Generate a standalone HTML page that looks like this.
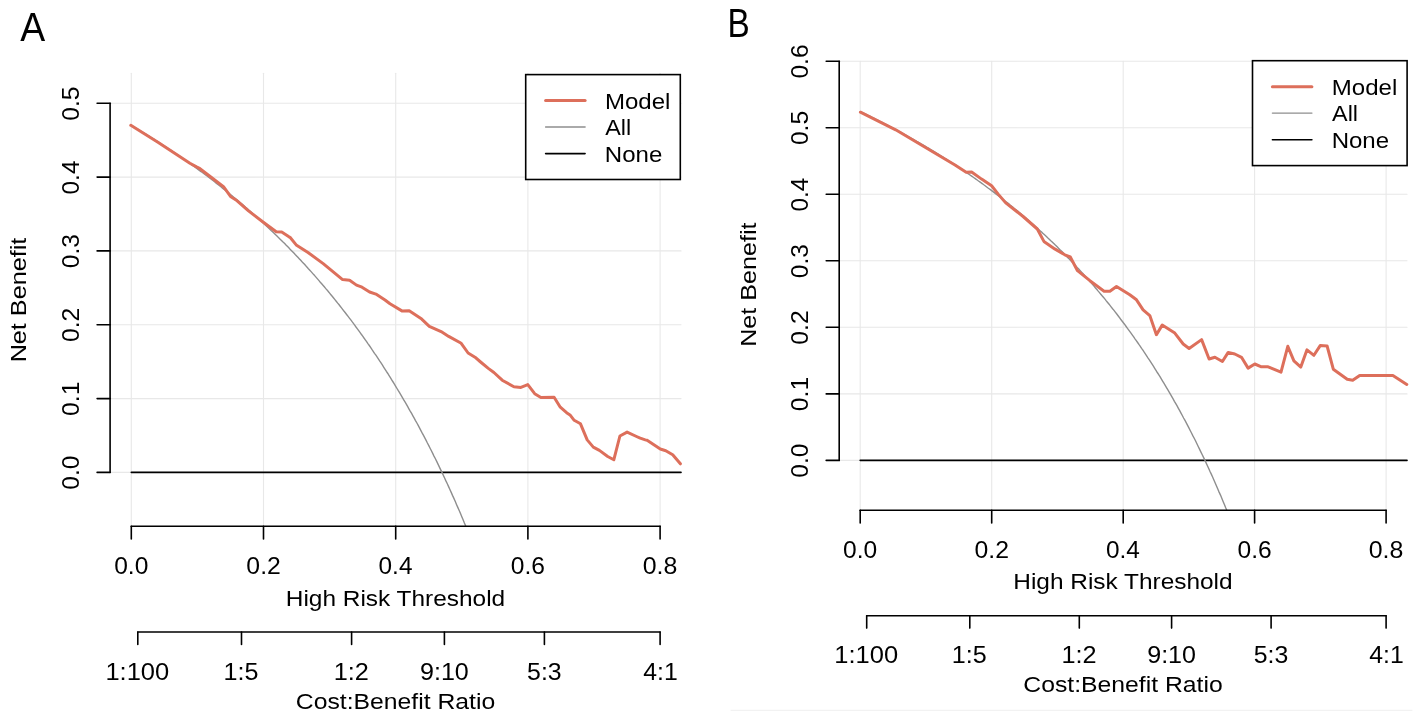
<!DOCTYPE html>
<html><head><meta charset="utf-8"><style>
html,body{margin:0;padding:0;background:#fff;width:1418px;height:722px;overflow:hidden}
svg{display:block;will-change:transform}
.t{font-family:"Liberation Sans", sans-serif;font-size:23.5px;fill:#000}
.w{font-family:"Liberation Sans", sans-serif;font-size:22.7px;fill:#000}
.lg{font-family:"Liberation Sans", sans-serif;font-size:20.5px;fill:#000}
.big{font-family:"Liberation Sans", sans-serif;font-size:39.5px;fill:#000}
</style></head><body>
<svg width="1418" height="722" viewBox="0 0 1418 722" stroke-linecap="round">
<rect width="1418" height="722" fill="#fff"/>
<line x1="131.3" y1="73.3" x2="131.3" y2="526.2" stroke="#e8e8e8" stroke-width="1.1"/>
<line x1="263.5" y1="73.3" x2="263.5" y2="526.2" stroke="#e8e8e8" stroke-width="1.1"/>
<line x1="395.7" y1="73.3" x2="395.7" y2="526.2" stroke="#e8e8e8" stroke-width="1.1"/>
<line x1="527.9" y1="73.3" x2="527.9" y2="526.2" stroke="#e8e8e8" stroke-width="1.1"/>
<line x1="660.1" y1="73.3" x2="660.1" y2="526.2" stroke="#e8e8e8" stroke-width="1.1"/>
<line x1="110.1" y1="472.4" x2="681" y2="472.4" stroke="#e8e8e8" stroke-width="1.1"/>
<line x1="110.1" y1="398.6" x2="681" y2="398.6" stroke="#e8e8e8" stroke-width="1.1"/>
<line x1="110.1" y1="324.8" x2="681" y2="324.8" stroke="#e8e8e8" stroke-width="1.1"/>
<line x1="110.1" y1="250.9" x2="681" y2="250.9" stroke="#e8e8e8" stroke-width="1.1"/>
<line x1="110.1" y1="177.1" x2="681" y2="177.1" stroke="#e8e8e8" stroke-width="1.1"/>
<line x1="110.1" y1="103.3" x2="681" y2="103.3" stroke="#e8e8e8" stroke-width="1.1"/>
<line x1="131.3" y1="472.4" x2="681" y2="472.4" stroke="#000" stroke-width="1.6"/>
<polyline fill="none" stroke="#8e8e8e" stroke-width="1.4" points="131.3,125.4 132.6,126.2 133.9,127 135.3,127.8 136.6,128.6 137.9,129.4 139.2,130.2 140.6,131 141.9,131.8 143.2,132.6 144.5,133.4 145.8,134.2 147.2,135.1 148.5,135.9 149.8,136.7 151.1,137.5 152.5,138.4 153.8,139.2 155.1,140.1 156.4,140.9 157.7,141.7 159.1,142.6 160.4,143.5 161.7,144.3 163,145.2 164.4,146 165.7,146.9 167,147.8 168.3,148.7 169.6,149.5 171,150.4 172.3,151.3 173.6,152.2 174.9,153.1 176.2,154 177.6,154.9 178.9,155.8 180.2,156.7 181.5,157.6 182.9,158.5 184.2,159.5 185.5,160.4 186.8,161.3 188.1,162.3 189.5,163.2 190.8,164.1 192.1,165.1 193.4,166 194.8,167 196.1,168 197.4,168.9 198.7,169.9 200,170.9 201.4,171.8 202.7,172.8 204,173.8 205.3,174.8 206.7,175.8 208,176.8 209.3,177.8 210.6,178.8 211.9,179.8 213.3,180.8 214.6,181.8 215.9,182.9 217.2,183.9 218.6,184.9 219.9,186 221.2,187 222.5,188.1 223.8,189.1 225.2,190.2 226.5,191.3 227.8,192.3 229.1,193.4 230.4,194.5 231.8,195.6 233.1,196.7 234.4,197.8 235.7,198.9 237.1,200 238.4,201.1 239.7,202.2 241,203.3 242.3,204.4 243.7,205.6 245,206.7 246.3,207.9 247.6,209 249,210.2 250.3,211.3 251.6,212.5 252.9,213.7 254.2,214.8 255.6,216 256.9,217.2 258.2,218.4 259.5,219.6 260.9,220.8 262.2,222 263.5,223.3 264.8,224.5 266.1,225.7 267.5,227 268.8,228.2 270.1,229.4 271.4,230.7 272.8,232 274.1,233.2 275.4,234.5 276.7,235.8 278,237.1 279.4,238.4 280.7,239.7 282,241 283.3,242.3 284.7,243.6 286,245 287.3,246.3 288.6,247.6 289.9,249 291.3,250.4 292.6,251.7 293.9,253.1 295.2,254.5 296.6,255.9 297.9,257.3 299.2,258.7 300.5,260.1 301.8,261.5 303.2,262.9 304.5,264.3 305.8,265.8 307.1,267.2 308.4,268.7 309.8,270.2 311.1,271.6 312.4,273.1 313.7,274.6 315.1,276.1 316.4,277.6 317.7,279.1 319,280.6 320.3,282.2 321.7,283.7 323,285.3 324.3,286.8 325.6,288.4 327,289.9 328.3,291.5 329.6,293.1 330.9,294.7 332.2,296.3 333.6,298 334.9,299.6 336.2,301.2 337.5,302.9 338.9,304.5 340.2,306.2 341.5,307.9 342.8,309.6 344.1,311.3 345.5,313 346.8,314.7 348.1,316.4 349.4,318.1 350.8,319.9 352.1,321.7 353.4,323.4 354.7,325.2 356,327 357.4,328.8 358.7,330.6 360,332.4 361.3,334.3 362.7,336.1 364,338 365.3,339.8 366.6,341.7 367.9,343.6 369.3,345.5 370.6,347.4 371.9,349.4 373.2,351.3 374.5,353.3 375.9,355.2 377.2,357.2 378.5,359.2 379.8,361.2 381.2,363.2 382.5,365.2 383.8,367.3 385.1,369.3 386.4,371.4 387.8,373.5 389.1,375.6 390.4,377.7 391.7,379.8 393.1,382 394.4,384.1 395.7,386.3 397,388.5 398.3,390.7 399.7,392.9 401,395.1 402.3,397.3 403.6,399.6 405,401.9 406.3,404.1 407.6,406.4 408.9,408.8 410.2,411.1 411.6,413.4 412.9,415.8 414.2,418.2 415.5,420.6 416.9,423 418.2,425.4 419.5,427.9 420.8,430.4 422.1,432.9 423.5,435.4 424.8,437.9 426.1,440.4 427.4,443 428.8,445.6 430.1,448.2 431.4,450.8 432.7,453.4 434,456.1 435.4,458.7 436.7,461.4 438,464.1 439.3,466.9 440.6,469.6 442,472.4 443.3,475.2 444.6,478 445.9,480.9 447.3,483.7 448.6,486.6 449.9,489.5 451.2,492.4 452.5,495.4 453.9,498.4 455.2,501.3 456.5,504.4 457.8,507.4 459.2,510.5 460.5,513.6 461.8,516.7 463.1,519.8 464.4,523 465.8,526.2 465.8,526.2"/>
<polyline fill="none" stroke="#DD6F5B" stroke-width="3" stroke-linejoin="round" points="130.8,125.3 158.3,142.4 189.9,163.2 196.5,166.9 200,168.7 209.5,176 223.5,186.7 230.5,196.4 236,199.9 248.5,210.9 263,222 276.2,231.7 281.7,232.1 288.6,236.6 290,237.3 296.2,244.9 308,252.5 323.2,263.6 342.6,279.6 349.6,280.2 356.5,285.1 362,287.2 369.6,292 375.9,294.1 385,300 390,303.8 402.3,311.1 409.2,310.8 421.7,319.1 429.3,326.3 441.1,331.6 448.7,336.4 461.2,343.3 468.1,353 475,357.2 480,361.5 488.3,368.4 493.9,372.5 502.2,380.2 513.9,386.7 520.9,387.4 527.8,384.6 534.7,393.7 540.9,397.5 554.1,397.2 560.3,407.2 566.6,412.7 570,414.9 574.2,420.3 580.5,423.8 587.2,439.9 593.3,447.1 599.4,450.4 607.7,456.5 613.8,459.8 619.9,436 627.1,432.1 636.5,436.5 640.2,438.2 645.3,439.9 647.1,440.3 660.3,449 665.8,450.7 672.7,454.8 680.4,463.8"/>
<path d="M110.1,472.4V103.3" stroke="#000" stroke-width="1.6" fill="none"/>
<path d="M97.1,472.4H110.1" stroke="#000" stroke-width="1.6"/>
<text transform="translate(78.60,489.75) rotate(-90) scale(1.0472,1)" class="t">0.0</text>
<path d="M97.1,398.6H110.1" stroke="#000" stroke-width="1.6"/>
<text transform="translate(78.60,415.94) rotate(-90) scale(1.0557,1)" class="t">0.1</text>
<path d="M97.1,324.8H110.1" stroke="#000" stroke-width="1.6"/>
<text transform="translate(78.60,342.12) rotate(-90) scale(1.0557,1)" class="t">0.2</text>
<path d="M97.1,250.9H110.1" stroke="#000" stroke-width="1.6"/>
<text transform="translate(78.60,268.29) rotate(-90) scale(1.0472,1)" class="t">0.3</text>
<path d="M97.1,177.1H110.1" stroke="#000" stroke-width="1.6"/>
<text transform="translate(78.60,194.46) rotate(-90) scale(1.0387,1)" class="t">0.4</text>
<path d="M97.1,103.3H110.1" stroke="#000" stroke-width="1.6"/>
<text transform="translate(78.60,120.65) rotate(-90) scale(1.0472,1)" class="t">0.5</text>
<path d="M131.3,526.2H660.1" stroke="#000" stroke-width="1.6" fill="none"/>
<path d="M131.3,526.2V538.9" stroke="#000" stroke-width="1.6"/>
<text transform="translate(114.15,574.00) scale(1.0472,1.0000)" class="t">0.0</text>
<path d="M263.5,526.2V538.9" stroke="#000" stroke-width="1.6"/>
<text transform="translate(246.34,574.00) scale(1.0557,1.0000)" class="t">0.2</text>
<path d="M395.7,526.2V538.9" stroke="#000" stroke-width="1.6"/>
<text transform="translate(378.56,574.00) scale(1.0387,1.0000)" class="t">0.4</text>
<path d="M527.9,526.2V538.9" stroke="#000" stroke-width="1.6"/>
<text transform="translate(510.75,574.00) scale(1.0472,1.0000)" class="t">0.6</text>
<path d="M660.1,526.2V538.9" stroke="#000" stroke-width="1.6"/>
<text transform="translate(642.74,574.00) scale(1.0602,1.0000)" class="t">0.8</text>
<text transform="translate(285.82,605.50) scale(1.0760,1.0000)" class="w">High Risk Threshold</text>
<path d="M137.8,632H660.1" stroke="#000" stroke-width="1.6" fill="none"/>
<path d="M137.8,632V644.4" stroke="#000" stroke-width="1.6"/>
<text transform="translate(105.45,679.60) scale(1.0844,1.0000)" class="t">1:100</text>
<path d="M241.5,632V644.4" stroke="#000" stroke-width="1.6"/>
<text transform="translate(223.54,679.60) scale(1.0700,1.0000)" class="t">1:5</text>
<path d="M351.6,632V644.4" stroke="#000" stroke-width="1.6"/>
<text transform="translate(333.75,679.60) scale(1.0756,1.0000)" class="t">1:2</text>
<path d="M444.4,632V644.4" stroke="#000" stroke-width="1.6"/>
<text transform="translate(419.99,679.60) scale(1.0674,1.0000)" class="t">9:10</text>
<path d="M544.4,632V644.4" stroke="#000" stroke-width="1.6"/>
<text transform="translate(527.12,679.60) scale(1.0569,1.0000)" class="t">5:3</text>
<path d="M660.1,632V644.4" stroke="#000" stroke-width="1.6"/>
<text transform="translate(643.22,679.60) scale(1.0548,1.0000)" class="t">4:1</text>
<text transform="translate(295.84,708.90) scale(1.0899,1.0000)" class="w">Cost:Benefit Ratio</text>
<rect x="525.7" y="74.6" width="154.6" height="104.9" fill="#fff" stroke="#000" stroke-width="1.6"/>
<line x1="545.6" y1="100.6" x2="585.1" y2="100.6" stroke="#DD6F5B" stroke-width="3"/>
<text transform="translate(604.95,108.70) scale(1.0598,1.0000)" class="w">Model</text>
<line x1="545.6" y1="127" x2="585.1" y2="127" stroke="#8e8e8e" stroke-width="1.4"/>
<text transform="translate(605.24,135.10) scale(1.0298,1.0000)" class="w">All</text>
<line x1="545.6" y1="153.6" x2="585.1" y2="153.6" stroke="#000" stroke-width="1.6"/>
<text transform="translate(604.85,161.50) scale(1.0583,1.0000)" class="w">None</text>
<line x1="860.2" y1="61.2" x2="860.2" y2="510.3" stroke="#e8e8e8" stroke-width="1.1"/>
<line x1="991.7" y1="61.2" x2="991.7" y2="510.3" stroke="#e8e8e8" stroke-width="1.1"/>
<line x1="1123.2" y1="61.2" x2="1123.2" y2="510.3" stroke="#e8e8e8" stroke-width="1.1"/>
<line x1="1254.6" y1="61.2" x2="1254.6" y2="510.3" stroke="#e8e8e8" stroke-width="1.1"/>
<line x1="1386.1" y1="61.2" x2="1386.1" y2="510.3" stroke="#e8e8e8" stroke-width="1.1"/>
<line x1="839.2" y1="460.4" x2="1407" y2="460.4" stroke="#e8e8e8" stroke-width="1.1"/>
<line x1="839.2" y1="393.9" x2="1407" y2="393.9" stroke="#e8e8e8" stroke-width="1.1"/>
<line x1="839.2" y1="327.3" x2="1407" y2="327.3" stroke="#e8e8e8" stroke-width="1.1"/>
<line x1="839.2" y1="260.8" x2="1407" y2="260.8" stroke="#e8e8e8" stroke-width="1.1"/>
<line x1="839.2" y1="194.3" x2="1407" y2="194.3" stroke="#e8e8e8" stroke-width="1.1"/>
<line x1="839.2" y1="127.8" x2="1407" y2="127.8" stroke="#e8e8e8" stroke-width="1.1"/>
<line x1="839.2" y1="61.2" x2="1407" y2="61.2" stroke="#e8e8e8" stroke-width="1.1"/>
<line x1="860.2" y1="460.4" x2="1407" y2="460.4" stroke="#000" stroke-width="1.6"/>
<polyline fill="none" stroke="#8e8e8e" stroke-width="1.4" points="860.2,111.5 861.5,112.2 862.8,112.8 864.1,113.4 865.5,114.1 866.8,114.7 868.1,115.4 869.4,116 870.7,116.7 872,117.3 873.3,118 874.7,118.6 876,119.3 877.3,120 878.6,120.6 879.9,121.3 881.2,122 882.6,122.7 883.9,123.3 885.2,124 886.5,124.7 887.8,125.4 889.1,126.1 890.4,126.8 891.8,127.5 893.1,128.2 894.4,128.9 895.7,129.6 897,130.3 898.3,131 899.6,131.7 901,132.4 902.3,133.2 903.6,133.9 904.9,134.6 906.2,135.3 907.5,136.1 908.8,136.8 910.2,137.5 911.5,138.3 912.8,139 914.1,139.8 915.4,140.5 916.7,141.3 918.1,142 919.4,142.8 920.7,143.6 922,144.3 923.3,145.1 924.6,145.9 925.9,146.7 927.3,147.5 928.6,148.2 929.9,149 931.2,149.8 932.5,150.6 933.8,151.4 935.1,152.2 936.5,153 937.8,153.8 939.1,154.7 940.4,155.5 941.7,156.3 943,157.1 944.3,158 945.7,158.8 947,159.6 948.3,160.5 949.6,161.3 950.9,162.2 952.2,163 953.6,163.9 954.9,164.7 956.2,165.6 957.5,166.5 958.8,167.4 960.1,168.2 961.4,169.1 962.8,170 964.1,170.9 965.4,171.8 966.7,172.7 968,173.6 969.3,174.5 970.6,175.4 972,176.3 973.3,177.2 974.6,178.2 975.9,179.1 977.2,180 978.5,181 979.8,181.9 981.2,182.9 982.5,183.8 983.8,184.8 985.1,185.7 986.4,186.7 987.7,187.7 989.1,188.7 990.4,189.6 991.7,190.6 993,191.6 994.3,192.6 995.6,193.6 996.9,194.6 998.3,195.6 999.6,196.6 1000.9,197.7 1002.2,198.7 1003.5,199.7 1004.8,200.8 1006.1,201.8 1007.5,202.9 1008.8,203.9 1010.1,205 1011.4,206 1012.7,207.1 1014,208.2 1015.3,209.3 1016.7,210.3 1018,211.4 1019.3,212.5 1020.6,213.6 1021.9,214.8 1023.2,215.9 1024.5,217 1025.9,218.1 1027.2,219.3 1028.5,220.4 1029.8,221.5 1031.1,222.7 1032.4,223.8 1033.8,225 1035.1,226.2 1036.4,227.4 1037.7,228.5 1039,229.7 1040.3,230.9 1041.6,232.1 1043,233.4 1044.3,234.6 1045.6,235.8 1046.9,237 1048.2,238.3 1049.5,239.5 1050.8,240.8 1052.2,242 1053.5,243.3 1054.8,244.6 1056.1,245.8 1057.4,247.1 1058.7,248.4 1060,249.7 1061.4,251 1062.7,252.3 1064,253.7 1065.3,255 1066.6,256.3 1067.9,257.7 1069.3,259.1 1070.6,260.4 1071.9,261.8 1073.2,263.2 1074.5,264.6 1075.8,266 1077.1,267.4 1078.5,268.8 1079.8,270.2 1081.1,271.6 1082.4,273.1 1083.7,274.5 1085,276 1086.3,277.4 1087.7,278.9 1089,280.4 1090.3,281.9 1091.6,283.4 1092.9,284.9 1094.2,286.4 1095.5,288 1096.9,289.5 1098.2,291.1 1099.5,292.6 1100.8,294.2 1102.1,295.8 1103.4,297.3 1104.8,298.9 1106.1,300.6 1107.4,302.2 1108.7,303.8 1110,305.4 1111.3,307.1 1112.6,308.8 1114,310.4 1115.3,312.1 1116.6,313.8 1117.9,315.5 1119.2,317.2 1120.5,319 1121.8,320.7 1123.2,322.5 1124.5,324.2 1125.8,326 1127.1,327.8 1128.4,329.6 1129.7,331.4 1131,333.2 1132.4,335.1 1133.7,336.9 1135,338.8 1136.3,340.6 1137.6,342.5 1138.9,344.4 1140.3,346.3 1141.6,348.3 1142.9,350.2 1144.2,352.2 1145.5,354.1 1146.8,356.1 1148.1,358.1 1149.5,360.1 1150.8,362.2 1152.1,364.2 1153.4,366.2 1154.7,368.3 1156,370.4 1157.3,372.5 1158.7,374.6 1160,376.7 1161.3,378.9 1162.6,381.1 1163.9,383.2 1165.2,385.4 1166.5,387.6 1167.9,389.9 1169.2,392.1 1170.5,394.4 1171.8,396.7 1173.1,398.9 1174.4,401.3 1175.8,403.6 1177.1,405.9 1178.4,408.3 1179.7,410.7 1181,413.1 1182.3,415.5 1183.6,418 1185,420.4 1186.3,422.9 1187.6,425.4 1188.9,427.9 1190.2,430.5 1191.5,433 1192.8,435.6 1194.2,438.2 1195.5,440.8 1196.8,443.5 1198.1,446.2 1199.4,448.9 1200.7,451.6 1202,454.3 1203.4,457.1 1204.7,459.8 1206,462.6 1207.3,465.5 1208.6,468.3 1209.9,471.2 1211.3,474.1 1212.6,477 1213.9,480 1215.2,483 1216.5,486 1217.8,489 1219.1,492.1 1220.5,495.1 1221.8,498.2 1223.1,501.4 1224.4,504.6 1225.7,507.8 1226.8,510.3"/>
<polyline fill="none" stroke="#DD6F5B" stroke-width="3" stroke-linejoin="round" points="860.4,112.2 895.7,129.8 933.1,152 955,165 966.2,172.3 971.6,172 981.6,179.1 991.6,185.8 998.2,194.1 1005.7,202.9 1023.1,216.5 1037.3,229 1043.9,241.4 1054.7,248.9 1064.8,254.8 1070.3,257 1077.5,270.7 1089.9,280.7 1104.1,291.2 1109.9,291.2 1116.5,286.5 1129.8,294.8 1136.5,299.8 1143.1,309.8 1149.8,315.6 1156.4,334.7 1162.2,325.1 1174.8,333.1 1183.2,344 1189.1,348.5 1201.6,339.6 1209.1,359 1214.9,357.3 1222.4,361.5 1228.2,352.4 1234.8,354 1241.5,357.3 1248.1,368.1 1254.8,364 1261.4,366.8 1268.1,366.8 1281,372.2 1287.8,346.3 1293.9,360.9 1300.8,367.1 1307,349.8 1313.9,355.3 1320.2,345.6 1327.1,346 1333.3,369.2 1347.2,379.3 1352.7,380.3 1359.7,375.4 1392.9,375.4 1406.8,384.4"/>
<path d="M839.2,460.4V61.2" stroke="#000" stroke-width="1.6" fill="none"/>
<path d="M826.2,460.4H839.2" stroke="#000" stroke-width="1.6"/>
<text transform="translate(808.10,477.75) rotate(-90) scale(1.0472,1)" class="t">0.0</text>
<path d="M826.2,393.9H839.2" stroke="#000" stroke-width="1.6"/>
<text transform="translate(808.10,411.23) rotate(-90) scale(1.0557,1)" class="t">0.1</text>
<path d="M826.2,327.3H839.2" stroke="#000" stroke-width="1.6"/>
<text transform="translate(808.10,344.70) rotate(-90) scale(1.0557,1)" class="t">0.2</text>
<path d="M826.2,260.8H839.2" stroke="#000" stroke-width="1.6"/>
<text transform="translate(808.10,278.16) rotate(-90) scale(1.0472,1)" class="t">0.3</text>
<path d="M826.2,194.3H839.2" stroke="#000" stroke-width="1.6"/>
<text transform="translate(808.10,211.62) rotate(-90) scale(1.0387,1)" class="t">0.4</text>
<path d="M826.2,127.8H839.2" stroke="#000" stroke-width="1.6"/>
<text transform="translate(808.10,145.10) rotate(-90) scale(1.0472,1)" class="t">0.5</text>
<path d="M826.2,61.2H839.2" stroke="#000" stroke-width="1.6"/>
<text transform="translate(808.10,78.57) rotate(-90) scale(1.0472,1)" class="t">0.6</text>
<path d="M860.2,510.3H1386.1" stroke="#000" stroke-width="1.6" fill="none"/>
<path d="M860.2,510.3V523" stroke="#000" stroke-width="1.6"/>
<text transform="translate(843.05,557.70) scale(1.0472,1.0000)" class="t">0.0</text>
<path d="M991.7,510.3V523" stroke="#000" stroke-width="1.6"/>
<text transform="translate(974.52,557.70) scale(1.0557,1.0000)" class="t">0.2</text>
<path d="M1123.2,510.3V523" stroke="#000" stroke-width="1.6"/>
<text transform="translate(1106.02,557.70) scale(1.0387,1.0000)" class="t">0.4</text>
<path d="M1254.6,510.3V523" stroke="#000" stroke-width="1.6"/>
<text transform="translate(1237.49,557.70) scale(1.0472,1.0000)" class="t">0.6</text>
<path d="M1386.1,510.3V523" stroke="#000" stroke-width="1.6"/>
<text transform="translate(1368.76,557.70) scale(1.0602,1.0000)" class="t">0.8</text>
<text transform="translate(1013.28,589.20) scale(1.0760,1.0000)" class="w">High Risk Threshold</text>
<path d="M866.7,615.7H1386.1" stroke="#000" stroke-width="1.6" fill="none"/>
<path d="M866.7,615.7V628.1" stroke="#000" stroke-width="1.6"/>
<text transform="translate(834.31,663.00) scale(1.0844,1.0000)" class="t">1:100</text>
<path d="M969.8,615.7V628.1" stroke="#000" stroke-width="1.6"/>
<text transform="translate(951.84,663.00) scale(1.0700,1.0000)" class="t">1:5</text>
<path d="M1079.3,615.7V628.1" stroke="#000" stroke-width="1.6"/>
<text transform="translate(1061.45,663.00) scale(1.0756,1.0000)" class="t">1:2</text>
<path d="M1171.6,615.7V628.1" stroke="#000" stroke-width="1.6"/>
<text transform="translate(1147.18,663.00) scale(1.0674,1.0000)" class="t">9:10</text>
<path d="M1271.1,615.7V628.1" stroke="#000" stroke-width="1.6"/>
<text transform="translate(1253.77,663.00) scale(1.0569,1.0000)" class="t">5:3</text>
<path d="M1386.1,615.7V628.1" stroke="#000" stroke-width="1.6"/>
<text transform="translate(1369.24,663.00) scale(1.0548,1.0000)" class="t">4:1</text>
<text transform="translate(1023.30,692.20) scale(1.0899,1.0000)" class="w">Cost:Benefit Ratio</text>
<rect x="1252.5" y="60.7" width="154.6" height="104.9" fill="#fff" stroke="#000" stroke-width="1.6"/>
<line x1="1272.4" y1="86.7" x2="1311.9" y2="86.7" stroke="#DD6F5B" stroke-width="3"/>
<text transform="translate(1331.75,94.80) scale(1.0598,1.0000)" class="w">Model</text>
<line x1="1272.4" y1="113.1" x2="1311.9" y2="113.1" stroke="#8e8e8e" stroke-width="1.4"/>
<text transform="translate(1332.04,121.20) scale(1.0298,1.0000)" class="w">All</text>
<line x1="1272.4" y1="139.7" x2="1311.9" y2="139.7" stroke="#000" stroke-width="1.6"/>
<text transform="translate(1331.65,147.60) scale(1.0583,1.0000)" class="w">None</text>
<text transform="translate(26.20,362.34) rotate(-90) scale(1.1095,1)" class="w">Net Benefit</text>
<text transform="translate(755.90,346.84) rotate(-90) scale(1.1077,1)" class="w">Net Benefit</text>
<text transform="translate(20.36,40.85) scale(0.9462,1.0294)" class="big">A</text>
<text transform="translate(727.56,36.50) scale(0.8429,1.0202)" class="big">B</text>
<line x1="731" y1="710.3" x2="1412" y2="710.3" stroke="#efefef" stroke-width="1"/>
</svg>
</body></html>
